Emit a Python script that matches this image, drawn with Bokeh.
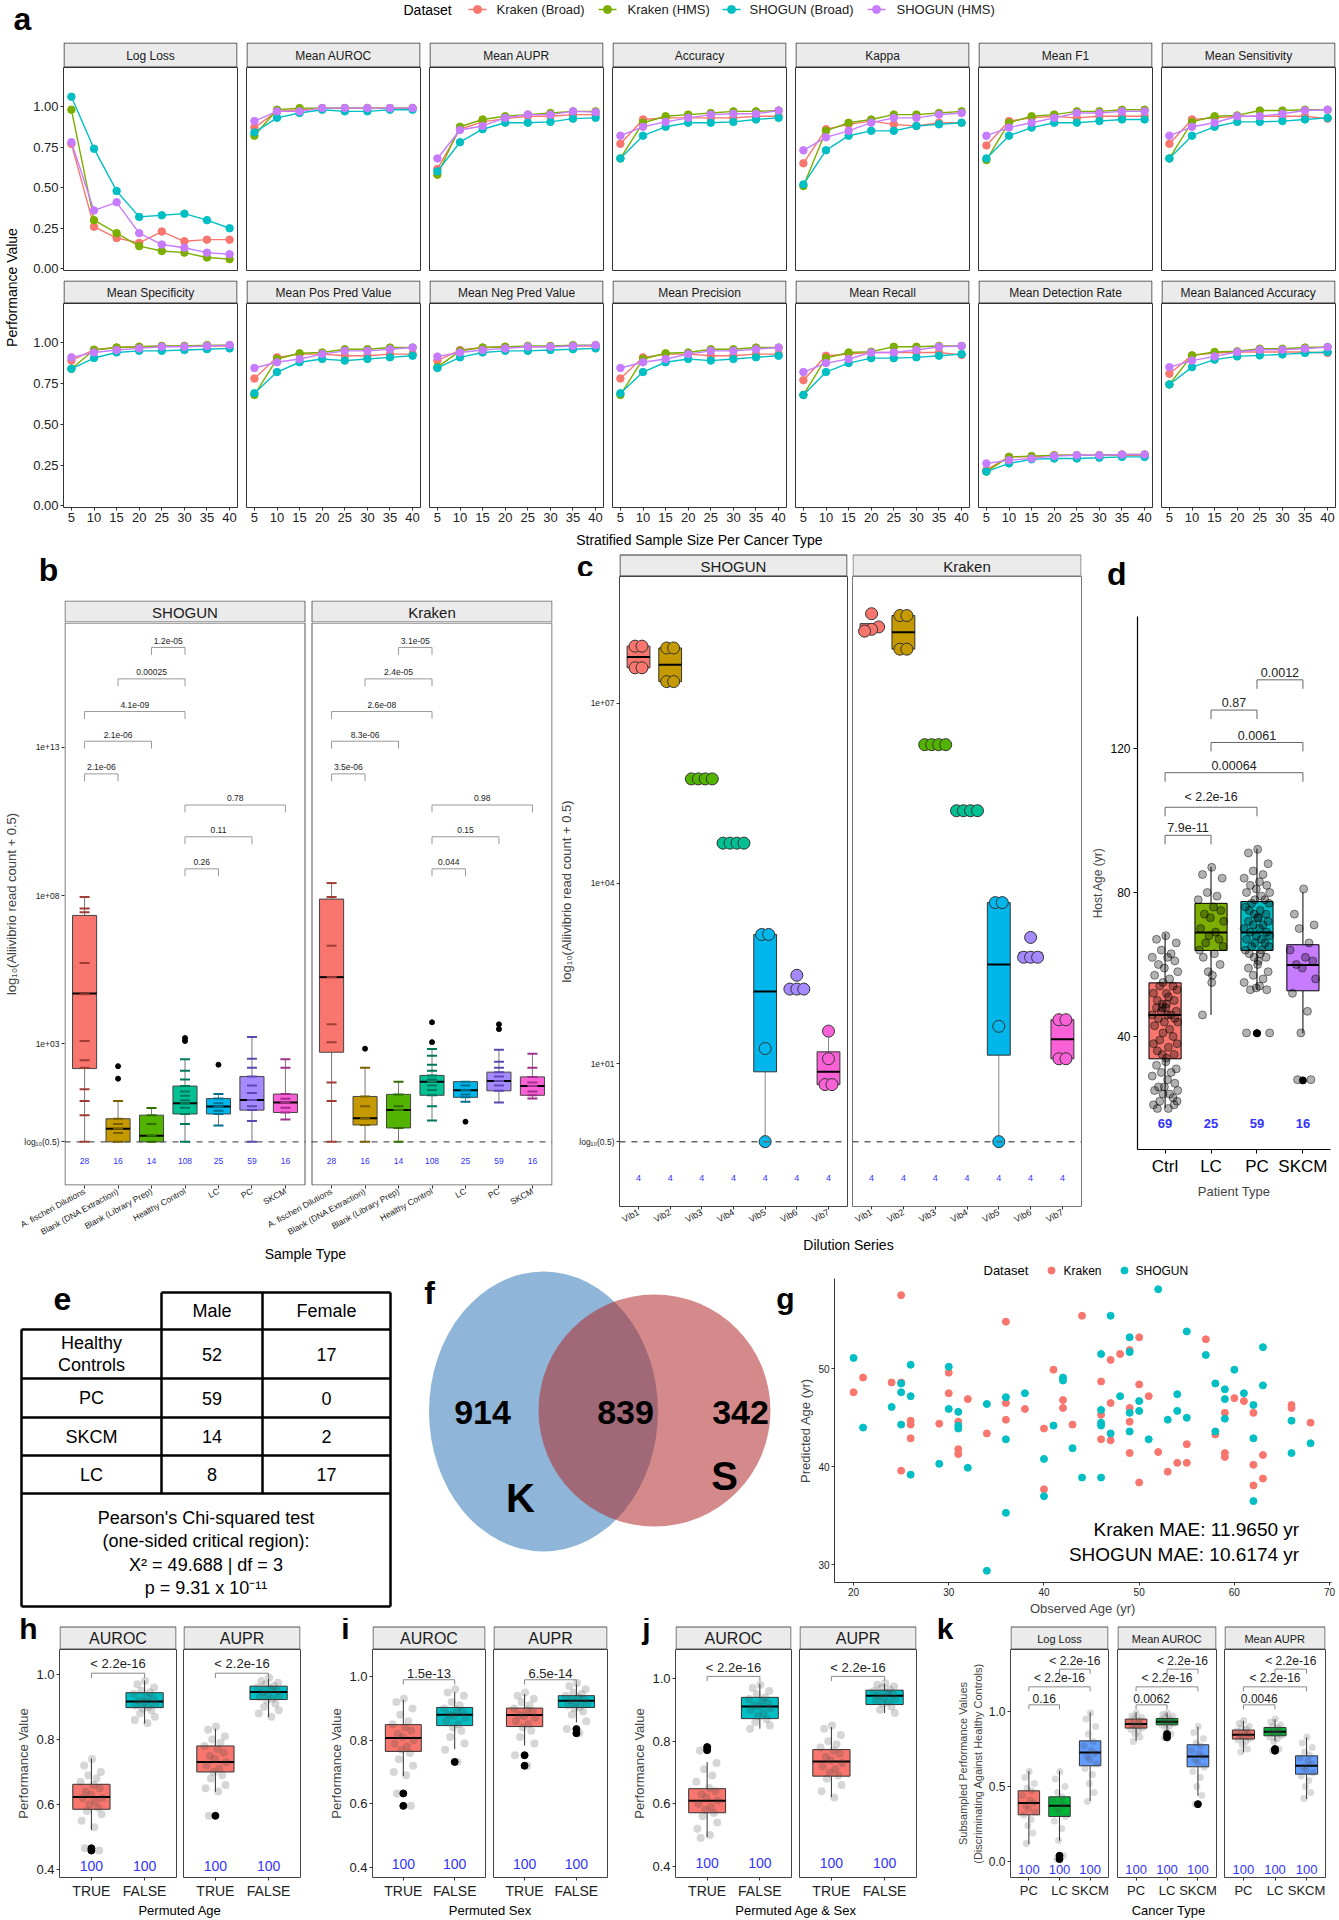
import numpy as np
from bokeh.plotting import figure
from bokeh.layouts import row, column
from bokeh.models import Range1d, FixedTicker, LinearAxis, Span, Spacer, NumeralTickFormatter
from bokeh.core.properties import value
from bokeh.embed import file_html
from bokeh.resources import INLINE

FONT = "Liberation Sans"
LOG_HALF = float(np.log10(0.5))

# ======================= DATA =======================
# ---- panel a
a_x = [5, 10, 15, 20, 25, 30, 35, 40]
a_series = ["Kraken (Broad)", "Kraken (HMS)", "SHOGUN (Broad)", "SHOGUN (HMS)"]
a_metrics = ["Log Loss", "Mean AUROC", "Mean AUPR", "Accuracy", "Kappa", "Mean F1", "Mean Sensitivity",
             "Mean Specificity", "Mean Pos Pred Value", "Mean Neg Pred Value", "Mean Precision",
             "Mean Recall", "Mean Detection Rate", "Mean Balanced Accuracy"]
a_log_loss = [[0.77, 0.26, 0.19, 0.16, 0.23, 0.17, 0.18, 0.18],
              [0.98, 0.30, 0.22, 0.14, 0.11, 0.10, 0.07, 0.06],
              [1.06, 0.74, 0.48, 0.32, 0.33, 0.34, 0.30, 0.25],
              [0.78, 0.36, 0.41, 0.22, 0.15, 0.13, 0.10, 0.09]]
a_auroc = [[0.87, 0.97, 0.98, 0.99, 0.99, 0.99, 0.99, 0.99],
           [0.82, 0.98, 0.99, 0.99, 0.99, 0.99, 0.99, 0.99],
           [0.84, 0.93, 0.96, 0.98, 0.97, 0.97, 0.98, 0.98],
           [0.91, 0.97, 0.97, 0.99, 0.99, 0.99, 0.99, 0.99]]
a_aupr = [[0.615, 0.86, 0.905, 0.925, 0.94, 0.94, 0.95, 0.95],
          [0.58, 0.875, 0.92, 0.94, 0.95, 0.96, 0.97, 0.97],
          [0.60, 0.78, 0.86, 0.90, 0.90, 0.905, 0.925, 0.93],
          [0.68, 0.855, 0.88, 0.93, 0.95, 0.95, 0.97, 0.965]]
a_accuracy = [[0.77, 0.92, 0.93, 0.93, 0.93, 0.93, 0.94, 0.94],
              [0.68, 0.90, 0.94, 0.95, 0.96, 0.97, 0.97, 0.975],
              [0.68, 0.82, 0.875, 0.90, 0.90, 0.905, 0.92, 0.93],
              [0.82, 0.875, 0.905, 0.93, 0.95, 0.955, 0.955, 0.975]]
a_kappa = [[0.65, 0.86, 0.89, 0.91, 0.89, 0.88, 0.90, 0.90],
           [0.51, 0.85, 0.90, 0.92, 0.95, 0.95, 0.96, 0.97],
           [0.52, 0.73, 0.82, 0.85, 0.85, 0.88, 0.89, 0.90],
           [0.73, 0.81, 0.85, 0.90, 0.93, 0.93, 0.95, 0.96]]
a_f1 = [[0.76, 0.91, 0.93, 0.94, 0.93, 0.94, 0.94, 0.94],
        [0.67, 0.90, 0.94, 0.95, 0.97, 0.97, 0.98, 0.98],
        [0.68, 0.82, 0.87, 0.90, 0.90, 0.91, 0.92, 0.92],
        [0.82, 0.87, 0.90, 0.93, 0.96, 0.96, 0.97, 0.97]]
a_sensitivity = [[0.77, 0.92, 0.93, 0.94, 0.94, 0.94, 0.94, 0.925],
                 [0.68, 0.905, 0.94, 0.945, 0.975, 0.975, 0.98, 0.98],
                 [0.68, 0.82, 0.875, 0.905, 0.905, 0.91, 0.92, 0.93],
                 [0.82, 0.875, 0.90, 0.94, 0.94, 0.955, 0.975, 0.98]]
a_specificity = [[0.89, 0.957, 0.97, 0.975, 0.978, 0.978, 0.98, 0.98],
                 [0.84, 0.955, 0.97, 0.975, 0.98, 0.98, 0.985, 0.985],
                 [0.84, 0.906, 0.94, 0.95, 0.95, 0.955, 0.96, 0.965],
                 [0.91, 0.94, 0.955, 0.965, 0.975, 0.975, 0.98, 0.985]]
a_ppv = [[0.78, 0.91, 0.93, 0.93, 0.92, 0.92, 0.93, 0.93],
         [0.68, 0.90, 0.935, 0.94, 0.96, 0.96, 0.97, 0.97],
         [0.69, 0.82, 0.88, 0.90, 0.89, 0.90, 0.91, 0.92],
         [0.845, 0.88, 0.90, 0.93, 0.95, 0.95, 0.96, 0.97]]
a_npv = [[0.89, 0.955, 0.97, 0.975, 0.975, 0.975, 0.98, 0.98],
         [0.85, 0.95, 0.97, 0.975, 0.98, 0.98, 0.985, 0.985],
         [0.845, 0.91, 0.94, 0.95, 0.95, 0.955, 0.96, 0.965],
         [0.915, 0.94, 0.955, 0.965, 0.975, 0.975, 0.98, 0.985]]
a_precision = [[0.78, 0.91, 0.93, 0.93, 0.92, 0.92, 0.93, 0.93],
               [0.68, 0.90, 0.935, 0.94, 0.96, 0.96, 0.97, 0.97],
               [0.69, 0.82, 0.88, 0.90, 0.89, 0.90, 0.91, 0.92],
               [0.845, 0.88, 0.90, 0.93, 0.95, 0.95, 0.96, 0.97]]
a_recall = [[0.77, 0.92, 0.93, 0.94, 0.94, 0.94, 0.94, 0.925],
            [0.68, 0.905, 0.94, 0.945, 0.975, 0.975, 0.98, 0.98],
            [0.68, 0.82, 0.875, 0.905, 0.905, 0.91, 0.92, 0.93],
            [0.82, 0.875, 0.90, 0.94, 0.94, 0.955, 0.975, 0.98]]
a_detection = [[0.22, 0.30, 0.30, 0.31, 0.31, 0.31, 0.31, 0.31],
               [0.21, 0.30, 0.305, 0.31, 0.31, 0.31, 0.315, 0.315],
               [0.21, 0.26, 0.285, 0.29, 0.29, 0.295, 0.30, 0.30],
               [0.26, 0.28, 0.29, 0.305, 0.31, 0.31, 0.315, 0.315]]
a_balanced = [[0.81, 0.922, 0.937, 0.943, 0.943, 0.943, 0.943, 0.937],
              [0.744, 0.922, 0.943, 0.947, 0.963, 0.963, 0.97, 0.973],
              [0.744, 0.85, 0.896, 0.916, 0.922, 0.928, 0.937, 0.943],
              [0.85, 0.89, 0.916, 0.943, 0.957, 0.957, 0.963, 0.973]]
a_values = [a_log_loss, a_auroc, a_aupr, a_accuracy, a_kappa, a_f1, a_sensitivity,
            a_specificity, a_ppv, a_npv, a_precision, a_recall, a_detection, a_balanced]

# ---- panel b
b_facets = ["SHOGUN", "Kraken"]
b_cats = ["A. fischeri Dilutions", "Blank (DNA Extraction)", "Blank (Library Prep)",
          "Healthy Control", "LC", "PC", "SKCM"]
b_n = [28, 16, 14, 108, 25, 59, 16]
b_pairs = [(3, 4), (2, 4), (1, 4), (1, 3), (1, 2), (4, 7), (4, 6), (4, 5)]
b_levels = [16.36, 15.3, 14.2, 13.2, 12.1, 11.05, 9.98, 8.9]
b_sh_p = ["1.2e-05", "0.00025", "4.1e-09", "2.1e-06", "2.1e-06", "0.78", "0.11", "0.26"]
b_kr_p = ["3.1e-05", "2.4e-05", "2.6e-08", "8.3e-06", "3.5e-06", "0.98", "0.15", "0.044"]
b_sh_q1 = [2.17, -0.30, -0.30, 0.64, 0.64, 0.77, 0.69]
b_sh_med = [4.70, 0.14, -0.09, 1.00, 0.89, 1.11, 1.03]
b_sh_q3 = [7.33, 0.48, 0.60, 1.58, 1.16, 1.90, 1.31]
b_sh_lo = [-0.30, -0.30, -0.30, -0.30, 0.25, -0.30, 0.45]
b_sh_hi = [7.95, 1.08, 0.84, 2.48, 1.31, 3.23, 2.48]
b_sh_out_x = [2, 2, 4, 4, 5]
b_sh_out_y = [1.83, 2.25, 3.20, 3.10, 2.30]
b_sh_pts = [[7.95, 7.56, 7.44, 5.73, 4.67, 3.1, 2.45, 2.2, 1.47, 1.08, 0.6, -0.3],
            [1.08, 0.48, 0.3, 0.14, 0.0, -0.3],
            [0.84, 0.6, 0.3, -0.09, -0.3],
            [2.48, 2.1, 1.8, 1.58, 1.4, 1.25, 1.1, 1.0, 0.85, 0.64, 0.3, -0.3],
            [1.31, 1.16, 1.0, 0.89, 0.75, 0.64, 0.25],
            [3.23, 2.5, 2.2, 1.9, 1.6, 1.35, 1.11, 0.9, 0.77, 0.4, -0.3],
            [2.48, 2.2, 1.31, 1.15, 1.03, 0.85, 0.69, 0.45]]
b_kr_q1 = [2.72, 0.27, 0.17, 1.27, 1.20, 1.42, 1.27]
b_kr_med = [5.25, 0.50, 0.77, 1.73, 1.44, 1.75, 1.58]
b_kr_q3 = [7.88, 1.23, 1.30, 1.94, 1.73, 2.05, 1.89]
b_kr_lo = [-0.30, -0.30, -0.30, 0.42, 1.05, 1.03, 1.16]
b_kr_hi = [8.42, 2.20, 1.73, 2.83, 1.73, 2.80, 2.67]
b_kr_out_x = [2, 4, 4, 5, 6, 6]
b_kr_out_y = [2.84, 3.73, 3.06, 0.38, 3.66, 3.50]
b_kr_pts = [[8.42, 7.95, 6.31, 5.25, 3.66, 3.06, 1.7, 1.08, -0.3],
            [2.2, 1.23, 0.9, 0.5, 0.27, -0.3],
            [1.73, 1.3, 0.9, 0.77, 0.17, -0.3],
            [2.83, 2.6, 2.3, 2.1, 1.94, 1.8, 1.73, 1.6, 1.45, 1.27, 0.9, 0.42],
            [1.73, 1.6, 1.44, 1.3, 1.2, 1.05],
            [2.8, 2.4, 2.2, 2.05, 1.9, 1.75, 1.6, 1.42, 1.03],
            [2.67, 2.2, 1.89, 1.7, 1.58, 1.4, 1.27, 1.16]]

# ---- panel c
c_cats = ["Vib1", "Vib2", "Vib3", "Vib4", "Vib5", "Vib6", "Vib7"]
c_n = [4, 4, 4, 4, 4, 4, 4]
c_sh_pts = [[7.95, 7.95, 7.59, 7.59], [7.92, 7.92, 7.36, 7.36], [5.74, 5.74, 5.74, 5.74],
            [4.67, 4.67, 4.67, 4.67], [3.15, 3.15, 1.25, -0.30], [2.47, 2.24, 2.24, 2.24],
            [1.54, 1.08, 0.65, 0.65]]
c_kr_pts = [[8.49, 8.27, 8.23, 8.20], [8.46, 8.46, 7.90, 7.90], [6.31, 6.31, 6.31, 6.31],
            [5.21, 5.21, 5.21, 5.21], [3.68, 3.68, 1.62, -0.30], [3.10, 2.77, 2.77, 2.77],
            [1.73, 1.73, 1.08, 1.08]]

# ---- panel d
d_groups = ["Ctrl", "LC", "PC", "SKCM"]
d_n = [69, 25, 59, 16]
d_q1 = [33.8, 63.9, 63.9, 52.7]
d_med = [46.0, 68.9, 68.9, 59.9]
d_q3 = [54.9, 77.0, 77.5, 65.5]
d_lo = [20.1, 46.0, 53.0, 40.9]
d_hi = [68.6, 87.1, 92.2, 80.1]
d_out = [[], [], [40.9, 40.9], [27.8]]
d_ctrl = [68, 67, 66, 64, 63, 62, 62, 61, 60, 59, 58, 57, 56, 55, 54, 54, 53, 52, 51, 50,
          50, 49, 49, 48, 48, 47, 47, 46, 46, 46, 45, 45, 44, 44, 43, 42, 41, 40, 39, 38,
          38, 37, 36, 35, 35, 34, 33, 32, 31, 30, 30, 29, 28, 27, 26, 26, 25, 25, 24, 24,
          23, 22, 22, 21, 20, 20, 21, 48, 52]
d_lc = [87, 85, 84, 80, 79, 78, 76, 75, 74, 73, 72, 70, 69, 68, 67, 66, 65, 64, 63, 62,
        60, 58, 57, 55, 46]
d_pc = [92, 91, 88, 86, 85, 84, 83, 82, 82, 81, 80, 80, 79, 78, 78, 77, 77, 76, 75, 75,
        74, 74, 73, 73, 72, 72, 71, 71, 70, 70, 69, 69, 68, 68, 67, 67, 66, 66, 65, 65,
        64, 63, 63, 62, 62, 61, 60, 59, 58, 57, 56, 55, 54, 53, 53, 53.5, 41, 41, 64]
d_skcm = [81, 74, 71, 70, 66, 64, 62, 61, 60, 59, 56, 52, 47, 41, 28, 28]
d_pairs = [(1, 2), (1, 3), (1, 4), (2, 4), (2, 3), (3, 4)]
d_levels = [95.9, 103.7, 113.3, 121.7, 130.7, 139.1]
d_p = ["7.9e-11", "< 2.2e-16", "0.00064", "0.0061", "0.87", "0.0012"]

# ---- panel e
e_cols = ["Male", "Female"]
e_rows = ["Healthy Controls", "PC", "SKCM", "LC"]
e_male = [52, 59, 14, 8]
e_female = [17, 0, 2, 17]
e_chisq = 49.688
e_df = 3
e_p = "9.31 x 10\u207b\u00b9\u00b9"

# ---- panel f
f_counts = [914, 839, 342]
f_sets = ["K", "S"]

# ---- panel g
g_kr_obs = [20, 21, 24, 25, 25, 25, 26, 26, 26, 29, 30, 30, 31, 31, 31, 32, 34, 36, 36, 36, 38, 40, 40,
            41, 42, 42, 43, 44, 46, 46, 46, 47, 47, 47, 48, 49, 49, 49, 49, 50, 50, 50, 51, 52, 53, 54,
            55, 55, 57, 58, 59, 59, 59, 60, 61, 62, 62, 62, 63, 63, 66, 66, 68]
g_kr_pred = [47.6, 49.1, 48.6, 48.6, 39.6, 57.5, 44.7, 44.3, 42.9, 44.4, 49.6, 47.5, 44.6, 41.8, 41.3,
             46.9, 43.4, 54.8, 46.5, 44.8, 45.9, 43.9, 37.7, 49.9, 46.8, 46.0, 44.3, 55.4, 48.7, 45.3,
             42.8, 50.9, 46.5, 42.7, 51.5, 51.9, 46.0, 44.6, 41.4, 53.2, 48.4, 38.4, 47.2, 41.5, 39.5,
             40.4, 42.3, 40.4, 53.0, 43.3, 45.5, 41.4, 41.0, 47.0, 46.7, 45.5, 40.2, 38.1, 41.2, 38.8,
             46.3, 46.0, 44.5]
g_sh_obs = [20, 21, 24, 25, 25, 25, 26, 26, 26, 29, 30, 30, 31, 31, 31, 32, 34, 34, 36, 36, 36, 38, 40,
            40, 41, 42, 42, 43, 44, 46, 46, 46, 46, 46, 47, 47, 48, 49, 49, 49, 49, 50, 50, 51, 52, 53,
            54, 54, 55, 55, 57, 58, 58, 59, 59, 59, 60, 61, 62, 62, 62, 63, 63, 66, 66, 68]
g_sh_pred = [51.1, 44.0, 46.1, 48.5, 47.6, 44.3, 50.4, 47.2, 39.2, 40.3, 50.2, 45.9, 45.6, 44.2, 43.9,
             39.9, 46.4, 29.4, 47.1, 42.8, 35.3, 47.5, 40.8, 37.0, 44.2, 49.1, 48.8, 41.9, 38.9, 51.5,
             45.8, 44.5, 44.2, 38.9, 55.4, 43.4, 47.2, 53.2, 51.7, 45.5, 43.6, 46.7, 45.7, 42.8, 58.1,
             44.8, 47.4, 45.7, 53.8, 45.0, 51.4, 48.5, 43.6, 47.9, 46.9, 44.9, 49.9, 47.5, 46.3, 42.9,
             36.5, 52.2, 48.3, 44.7, 41.4, 42.4]
g_mae = [11.9650, 10.6174]

# ---- panels h, i, j   (box: q1, median, q3, lower whisker, upper whisker) for TRUE, FALSE
hij_groups = ["TRUE", "FALSE"]
hij_n = [100, 100]
h_auroc_box = [[0.585, 0.623, 0.662, 0.521, 0.741], [0.898, 0.917, 0.944, 0.849, 0.982]]
h_auroc_out = [[0.465, 0.458], []]
h_auroc_pts = [[0.74, 0.72, 0.70, 0.69, 0.68, 0.67, 0.66, 0.65, 0.64, 0.63, 0.62, 0.62, 0.61, 0.60,
                0.59, 0.58, 0.57, 0.55, 0.53, 0.465, 0.458],
               [0.98, 0.97, 0.96, 0.95, 0.945, 0.94, 0.93, 0.925, 0.92, 0.915, 0.91, 0.905, 0.90,
                0.895, 0.89, 0.88, 0.87, 0.86, 0.85]]
h_aupr_box = [[0.70, 0.731, 0.78, 0.639, 0.833], [0.923, 0.946, 0.964, 0.869, 0.987]]
h_aupr_out = [[0.565], []]
h_aupr_pts = [[0.84, 0.83, 0.81, 0.80, 0.79, 0.78, 0.77, 0.76, 0.75, 0.74, 0.73, 0.72, 0.71, 0.70,
               0.69, 0.68, 0.66, 0.65, 0.64, 0.565],
              [0.99, 0.98, 0.975, 0.97, 0.965, 0.96, 0.955, 0.95, 0.945, 0.94, 0.935, 0.93, 0.925,
               0.92, 0.91, 0.90, 0.89, 0.88, 0.87]]
h_p = ["< 2.2e-16", "< 2.2e-16"]
i_auroc_box = [[0.765, 0.807, 0.849, 0.688, 0.927], [0.846, 0.880, 0.903, 0.772, 0.951]]
i_auroc_out = [[0.633, 0.594], [0.732]]
i_auroc_pts = [[0.93, 0.92, 0.90, 0.88, 0.86, 0.85, 0.84, 0.83, 0.82, 0.81, 0.80, 0.79, 0.78, 0.77,
                0.76, 0.74, 0.72, 0.70, 0.69, 0.633, 0.594],
               [0.96, 0.95, 0.94, 0.92, 0.91, 0.90, 0.895, 0.89, 0.88, 0.875, 0.87, 0.86, 0.85, 0.84,
                0.83, 0.81, 0.79, 0.77, 0.732]]
i_aupr_box = [[0.843, 0.879, 0.901, 0.783, 0.945], [0.903, 0.924, 0.94, 0.856, 0.977]]
i_aupr_out = [[0.753, 0.72], [0.835, 0.822]]
i_aupr_pts = [[0.95, 0.94, 0.93, 0.92, 0.91, 0.90, 0.895, 0.89, 0.88, 0.875, 0.87, 0.86, 0.85, 0.84,
               0.83, 0.81, 0.79, 0.753, 0.72],
              [0.98, 0.97, 0.96, 0.95, 0.945, 0.94, 0.935, 0.93, 0.925, 0.92, 0.915, 0.91, 0.905, 0.90,
               0.89, 0.88, 0.86, 0.835, 0.822]]
i_p = ["1.5e-13", "6.5e-14"]
j_auroc_box = [[0.571, 0.609, 0.648, 0.493, 0.733], [0.872, 0.911, 0.940, 0.84, 0.984]]
j_auroc_out = [[0.781, 0.771], []]
j_auroc_pts = [[0.78, 0.77, 0.73, 0.71, 0.69, 0.67, 0.65, 0.64, 0.63, 0.62, 0.61, 0.60, 0.59, 0.58,
                0.57, 0.56, 0.54, 0.52, 0.50, 0.49],
               [0.98, 0.97, 0.96, 0.95, 0.94, 0.935, 0.93, 0.92, 0.915, 0.91, 0.905, 0.90, 0.89, 0.88,
                0.87, 0.86, 0.85, 0.84]]
j_aupr_box = [[0.688, 0.735, 0.773, 0.621, 0.845], [0.917, 0.945, 0.963, 0.89, 0.984]]
j_aupr_out = [[], []]
j_aupr_pts = [[0.85, 0.84, 0.82, 0.80, 0.79, 0.78, 0.77, 0.76, 0.75, 0.74, 0.73, 0.72, 0.71, 0.70,
               0.69, 0.68, 0.66, 0.64, 0.62],
              [0.985, 0.98, 0.975, 0.97, 0.965, 0.96, 0.955, 0.95, 0.945, 0.94, 0.935, 0.93, 0.925,
               0.92, 0.91, 0.90, 0.89]]
j_p = ["< 2.2e-16", "< 2.2e-16"]

# ---- panel k   (PC, LC, SKCM)
k_groups = ["PC", "LC", "SKCM"]
k_metrics = ["Log Loss", "Mean AUROC", "Mean AUPR"]
k_n = [100, 100, 100]
k_logloss_box = [[0.311, 0.389, 0.471, 0.116, 0.604], [0.30, 0.371, 0.431, 0.138, 0.604],
                 [0.638, 0.727, 0.804, 0.404, 0.993]]
k_logloss_out = [[], [0.038, 0.016], []]
k_logloss_pts = [[0.60, 0.56, 0.52, 0.49, 0.47, 0.44, 0.41, 0.39, 0.37, 0.35, 0.33, 0.31, 0.28, 0.24, 0.19, 0.12],
                 [0.60, 0.55, 0.50, 0.46, 0.43, 0.41, 0.39, 0.37, 0.35, 0.33, 0.30, 0.27, 0.22, 0.14, 0.038, 0.016],
                 [0.99, 0.95, 0.90, 0.85, 0.80, 0.77, 0.74, 0.72, 0.70, 0.68, 0.65, 0.62, 0.58, 0.52, 0.46, 0.40]]
k_auroc_box = [[0.889, 0.916, 0.949, 0.804, 0.995], [0.911, 0.931, 0.953, 0.878, 0.993],
               [0.631, 0.70, 0.778, 0.438, 0.898]]
k_auroc_out = [[], [0.849, 0.827], [0.382]]
k_auroc_pts = [[0.99, 0.97, 0.96, 0.95, 0.94, 0.93, 0.92, 0.915, 0.91, 0.90, 0.89, 0.88, 0.87, 0.85, 0.83, 0.80],
               [0.99, 0.98, 0.97, 0.96, 0.95, 0.945, 0.94, 0.935, 0.93, 0.925, 0.92, 0.91, 0.90, 0.88, 0.849, 0.827],
               [0.90, 0.86, 0.82, 0.79, 0.77, 0.74, 0.72, 0.70, 0.68, 0.66, 0.63, 0.60, 0.56, 0.50, 0.44, 0.382]]
k_aupr_box = [[0.816, 0.844, 0.876, 0.727, 0.938], [0.838, 0.864, 0.893, 0.804, 0.949],
              [0.582, 0.638, 0.704, 0.416, 0.827]]
k_aupr_out = [[], [0.749, 0.738], []]
k_aupr_pts = [[0.94, 0.92, 0.90, 0.89, 0.88, 0.87, 0.86, 0.85, 0.84, 0.83, 0.82, 0.81, 0.80, 0.78, 0.75, 0.73],
              [0.95, 0.93, 0.91, 0.90, 0.89, 0.88, 0.87, 0.865, 0.86, 0.85, 0.84, 0.83, 0.82, 0.80, 0.749, 0.738],
              [0.83, 0.79, 0.76, 0.73, 0.71, 0.69, 0.67, 0.65, 0.63, 0.61, 0.59, 0.57, 0.54, 0.50, 0.46, 0.42]]
k_pc_lc_p = ["0.16", "0.0062", "0.0046"]
k_other_p = "< 2.2e-16"

# ======================= STYLE =======================
a_colors = ["#F8766D", "#7CAE00", "#00BFC4", "#C77CFF"]
b_colors = ["#F8766D", "#C49A00", "#53B400", "#00C094", "#00B6EB", "#A58AFF", "#FB61D7"]
b_dark = ["#A03C35", "#7A6000", "#2F6E00", "#00785C", "#00708F", "#5D47B0", "#A0308A"]
d_colors = ["#F8766D", "#7CAE00", "#00BFC4", "#C77CFF"]
k_colors = ["#F8766D", "#00BA38", "#619CFF"]
tf_colors = ["#F8766D", "#00BFC4"]
NBLUE = "#3333FF"
JIT = [0.05, -0.62, 0.81, -0.27, 0.44, -0.93, 0.18, 0.71, -0.48, -0.05, 0.92, -0.76, 0.33,
       -0.15, 0.58, -0.39, 0.87, -0.84, 0.24, -0.56, 0.66, -0.2, 0.1]


def jit(n, s):
    return [JIT[i % len(JIT)] * s for i in range(n)]


def blank(w, h, L=0, R=0):
    """Figure whose frame spans w-L-R; data x = canvas x - L, data y = canvas y (downwards)."""
    p = figure(width=w, height=h, x_range=Range1d(0, w - L - R), y_range=Range1d(h, 0),
               min_border_left=L, min_border_right=R, min_border_top=0, min_border_bottom=0,
               x_axis_location=None, y_axis_location=None,
               toolbar_location=None, output_backend="svg", title=None)
    p.outline_line_color = None
    p.grid.visible = False
    return p


def txt(p, x, y, s, size, align="center", baseline="middle", bold=False, color="black",
        angle=0.0, font=FONT):
    p.text(x=[x], y=[y], text=[s], text_font=value(font), text_font_size=size,
           text_align=align, text_baseline=baseline, text_color=color, angle=angle,
           text_font_style="bold" if bold else "normal")


def tag_axis(p, y, s, standoff, size="30px"):
    """Panel letter drawn as the single tick label of a bare left axis (sits in the left border)."""
    ax = LinearAxis(ticker=FixedTicker(ticks=[y]), major_label_overrides={y: s},
                    axis_line_color=None, major_tick_line_color=None, minor_tick_line_color=None,
                    major_tick_out=0, major_tick_in=0,
                    major_label_text_font=FONT, major_label_text_font_size=size,
                    major_label_text_font_style="bold", major_label_text_color="black",
                    major_label_standoff=standoff)
    p.add_layout(ax, "left")


def mk(L, F, R, T, H, B, xr, yr, xaxis=True, yaxis=True):
    p = figure(width=L + F + R, height=T + H + B, x_range=xr, y_range=yr,
               min_border_left=L, min_border_right=R, min_border_top=T, min_border_bottom=B,
               x_axis_location="below" if xaxis else None,
               y_axis_location="left" if yaxis else None,
               toolbar_location=None, output_backend="svg", title=None)
    p.grid.visible = False
    p.outline_line_color = "#333333"
    p.outline_line_width = 1
    for ax in p.axis:
        ax.major_label_text_font = FONT
        ax.axis_label_text_font = FONT
        ax.axis_label_text_font_style = "normal"
        ax.minor_tick_line_color = None
        ax.major_tick_out = 3
        ax.major_tick_in = 0
        ax.axis_line_color = None
        ax.major_tick_line_color = "#333333"
        ax.major_label_text_color = "#222222"
        ax.major_label_standoff = 2
        ax.axis_label_standoff = 2
    return p


def strip_fig(L, F, R, h, label, fs, tg=None, tag_y=0, tag_standoff=0, top=0, tag_fs="30px",
              fill="#EBEBEB", line="#333333"):
    s = blank(L + F + R, h, L, R)
    s.quad(left=[0.5], right=[F - 0.5], top=[top + 0.5], bottom=[h - 0.5],
           fill_color=fill, line_color=line, line_width=1)
    txt(s, F / 2, (top + h) / 2 + 0.5, label, fs, color="#1a1a1a")
    if tg:
        tag_axis(s, tag_y, tg, tag_standoff, tag_fs)
    return s


def boxes(p, xs, q1, med, q3, lo, hi, width, colors, line="#333333", wline="#333333",
          mw=2.0, alpha=1.0):
    p.segment(x0=xs, y0=q3, x1=xs, y1=hi, line_color=wline, line_width=1)
    p.segment(x0=xs, y0=lo, x1=xs, y1=q1, line_color=wline, line_width=1)
    p.vbar(x=xs, width=width, bottom=q1, top=q3, fill_color=colors, fill_alpha=alpha,
           line_color=line, line_width=1)
    p.segment(x0=[x - width / 2 for x in xs], y0=med, x1=[x + width / 2 for x in xs], y1=med,
              line_color="black", line_width=mw)


def brackets(p, pairs, levels, labels, drop, off, fs, color="#888888"):
    x0, y0, x1, y1 = [], [], [], []
    for (a, b), lv in zip(pairs, levels):
        x0 += [a, a, b]
        y0 += [lv - drop, lv, lv]
        x1 += [a, b, b]
        y1 += [lv, lv, lv - drop]
    p.segment(x0=x0, y0=y0, x1=x1, y1=y1, line_color=color, line_width=1)
    p.text(x=[(a + b) / 2 for a, b in pairs], y=[lv + off for lv in levels], text=labels,
           text_font=value(FONT), text_font_size=fs, text_align="center",
           text_baseline="bottom", text_color="#222222")


def stack_offsets(vals, step):
    order = sorted(range(len(vals)), key=lambda i: vals[i])
    offs = [0.0] * len(vals)
    clusters = []
    for i in order:
        if clusters and vals[i] - vals[clusters[-1][0]] <= 0.12:
            clusters[-1].append(i)
        else:
            clusters.append([i])
    for cl in clusters:
        n = len(cl)
        for j, i in enumerate(cl):
            offs[i] = (j - (n - 1) / 2) * step
    return offs


# ======================= SECTION 1 : panel a (y 0-548) =======================
hdr = blank(1339, 42)
txt(hdr, 22, 18, "a", "32px", bold=True)
txt(hdr, 403, 9, "Dataset", "14px", align="left")
leg_sym = [477, 607, 731, 876]
leg_lab = [496, 627, 749, 896]
hdr.segment(x0=[s - 9 for s in leg_sym], y0=[9] * 4, x1=[s + 9 for s in leg_sym], y1=[9] * 4,
            line_color=a_colors, line_width=1.5)
hdr.scatter(x=leg_sym, y=[9] * 4, size=8, color=a_colors)
hdr.text(x=leg_lab, y=[9] * 4, text=a_series, text_font=value(FONT), text_font_size="13px",
         text_align="left", text_baseline="middle", text_color="#222222")

XA = Range1d(3.25, 41.75)
YA = Range1d(-0.01, 1.24)


def a_plot(vals, first, bottom):
    L = 38 if first else 5
    H = 204 if bottom else 203
    B = 24 if bottom else 10
    p = mk(L, 174, 4, 0, H, B, XA, YA, xaxis=bottom, yaxis=first)
    if first:
        p.yaxis.ticker = FixedTicker(ticks=[0, 0.25, 0.5, 0.75, 1.0])
        p.yaxis.formatter = NumeralTickFormatter(format="0.00")
        p.yaxis.major_label_text_font_size = "13px"
    if bottom:
        p.xaxis.ticker = FixedTicker(ticks=a_x)
        p.xaxis.major_label_text_font_size = "13px"
    for s in range(4):
        p.line(a_x, vals[s], color=a_colors[s], line_width=1.4)
        p.scatter(a_x, vals[s], size=7.5, color=a_colors[s])
    return p


r1, r2 = [], []
for k in range(7):
    L = 38 if k == 0 else 5
    r1.append(column(strip_fig(L, 174, 4, 25, a_metrics[k], "12px"), a_plot(a_values[k], k == 0, False)))
    r2.append(column(strip_fig(L, 174, 4, 23, a_metrics[k + 7], "12px"),
                     a_plot(a_values[k + 7], k == 0, True)))
yt_a = blank(25, 489)
txt(yt_a, 11, 245, "Performance Value", "14px", angle=np.pi / 2)
xt_a = blank(1339, 17)
txt(xt_a, 699, 8, "Stratified Sample Size Per Cancer Type", "14px")
sec1 = column(hdr, row(yt_a, column(row(*r1), row(*r2))), xt_a)

# ======================= SECTION 2 : panels b, c, d (y 548-1262) =======================
# panel b: both facets share one figure (so the angled labels may overhang into the left facet);
# the second facet is offset by one facet width plus a 6 px gap.
B_L, B_F, B_R = 64, 488, 4
B_GAP_PX = 6
B_PPU = (B_F - B_GAP_PX) / 14.4
B_OFF = 7.2 + B_GAP_PX / B_PPU
B_YR = (-1.77, 17.2)


def b_panel():
    p = mk(B_L, B_F, B_R, 0, 563, 60, Range1d(0.4, 7.6 + B_OFF), Range1d(*B_YR), True, True)
    p.outline_line_color = None
    xs1 = list(range(1, 8))
    xs2 = [x + B_OFF for x in xs1]
    p.xaxis.ticker = FixedTicker(ticks=xs1 + xs2)
    p.xaxis.major_label_overrides = {x: c for x, c in zip(xs1 + xs2, b_cats + b_cats)}
    p.xaxis.major_label_orientation = 0.5
    p.xaxis.major_label_text_font_size = "8.5px"
    p.yaxis.ticker = FixedTicker(ticks=[LOG_HALF, 3, 8, 13])
    p.yaxis.major_label_overrides = {LOG_HALF: "log\u2081\u2080(0.5)", 3: "1e+03", 8: "1e+08",
                                     13: "1e+13"}
    p.yaxis.major_label_text_font_size = "8.5px"
    p.yaxis.axis_label = "log\u2081\u2080(Aliivibrio read count + 0.5)"
    p.yaxis.axis_label_text_font_size = "13px"
    ex = 0.5 / B_PPU
    ey = 0.5 * (B_YR[1] - B_YR[0]) / 563
    p.quad(left=[0.4 + ex, 0.4 + B_OFF + ex], right=[7.6 - ex, 7.6 + B_OFF - ex],
           bottom=[B_YR[0] + ey] * 2, top=[B_YR[1] - ey] * 2, fill_color=None,
           line_color="#555555", line_width=1)
    p.segment(x0=[0.4, 0.4 + B_OFF], y0=[LOG_HALF] * 2, x1=[7.6, 7.6 + B_OFF], y1=[LOG_HALF] * 2,
              line_color="#333333", line_dash="dashed", line_width=1)
    facets = [(xs1, 0.0, b_sh_q1, b_sh_med, b_sh_q3, b_sh_lo, b_sh_hi, b_sh_pts, b_sh_out_x, b_sh_out_y, b_sh_p),
              (xs2, B_OFF, b_kr_q1, b_kr_med, b_kr_q3, b_kr_lo, b_kr_hi, b_kr_pts, b_kr_out_x, b_kr_out_y, b_kr_p)]
    for xs, off, q1, med, q3, lo, hi, pts, ox, oy, plabels in facets:
        boxes(p, xs, q1, med, q3, lo, hi, 0.72, b_colors, line="#444444", wline="#777777")
        for k, vals in enumerate(pts):
            p.scatter(x=[xs[k]] * len(vals), y=vals, marker="dash", size=10,
                      line_color=b_dark[k], line_width=2)
        p.scatter(x=[x + off for x in ox], y=oy, size=5, color="black")
        brackets(p, [(a + off, b + off) for a, b in b_pairs], b_levels, plabels, 0.25, 0.12,
                 "8.5px", color="#999999")
        p.text(x=xs, y=[-0.95] * 7, text=[str(n) for n in b_n], text_font=value(FONT),
               text_font_size="8.5px", text_align="center", text_baseline="middle", text_color=NBLUE)
    return p


b_lab = blank(556, 52)
txt(b_lab, 48, 21, "b", "32px", bold=True)
b_fw = 7.2 * B_PPU
bs = blank(556, 22, B_L, B_R)
bs.quad(left=[0.5, b_fw + B_GAP_PX + 0.5], right=[b_fw - 0.5, B_F - 0.5], top=[0.5, 0.5],
        bottom=[21.5, 21.5], fill_color="#EBEBEB", line_color="#666666", line_width=1)
bs.text(x=[b_fw / 2, b_fw + B_GAP_PX + b_fw / 2], y=[11.5, 11.5], text=b_facets,
        text_font=value(FONT), text_font_size="15px", text_align="center", text_baseline="middle",
        text_color="#1a1a1a")
b_xt = blank(556, 17)
txt(b_xt, 305, 8, "Sample Type", "14px")
bcol = column(b_lab, row(column(bs, b_panel())), b_xt)


def c_facet(first, groups):
    L, F, R = (62, 229, 2) if first else (3, 229, 7)
    p = mk(L, F, R, 0, 630, 26, Range1d(0.4, 7.6), Range1d(-1.38, 9.11), True, first)
    p.outline_line_color = "#444444" if first else "#777777"
    xs = list(range(1, 8))
    p.xaxis.ticker = FixedTicker(ticks=xs)
    p.xaxis.major_label_overrides = {i + 1: c for i, c in enumerate(c_cats)}
    p.xaxis.major_label_orientation = 0.5
    p.xaxis.major_label_text_font_size = "9px"
    if first:
        p.yaxis.ticker = FixedTicker(ticks=[LOG_HALF, 1, 4, 7])
        p.yaxis.major_label_overrides = {LOG_HALF: "log\u2081\u2080(0.5)", 1: "1e+01", 4: "1e+04",
                                         7: "1e+07"}
        p.yaxis.major_label_text_font_size = "8.5px"
        p.yaxis.axis_label = "log\u2081\u2080(Aliivibrio read count + 0.5)"
        p.yaxis.axis_label_text_font_size = "13px"
    p.add_layout(Span(location=LOG_HALF, dimension="width", line_color="#666666",
                      line_dash="dashed", line_width=1.5))
    q1s, meds, q3s, los, his = [], [], [], [], []
    for vals in groups:
        arr = np.array(vals, dtype=float)
        q1, med, q3 = np.percentile(arr, [25, 50, 75])
        iqr = q3 - q1
        q1s.append(q1); meds.append(med); q3s.append(q3)
        los.append(arr[arr >= q1 - 1.5 * iqr].min())
        his.append(arr[arr <= q3 + 1.5 * iqr].max())
    boxes(p, xs, q1s, meds, q3s, los, his, 0.72, b_colors, line="#333333", wline="#888888")
    for k, vals in enumerate(groups):
        offs = stack_offsets(vals, 0.22)
        p.scatter(x=[k + 1 + o for o in offs], y=vals, size=12, fill_color=b_colors[k],
                  line_color="#333333", line_width=1)
    p.text(x=xs, y=[-0.91] * 7, text=[str(n) for n in c_n], text_font=value(FONT),
           text_font_size="9px", text_align="center", text_baseline="middle", text_color=NBLUE)
    return p


cs1 = strip_fig(62, 229, 2, 28, "SHOGUN", "15px", tg="c", tag_y=15, tag_standoff=26, top=6)
cs2 = strip_fig(3, 229, 7, 28, "Kraken", "15px", top=6, line="#777777")
cf1 = c_facet(True, c_sh_pts)
cf2 = c_facet(False, c_kr_pts)
c_xt = blank(532, 30)
txt(c_xt, 292, 12, "Dilution Series", "14px")
ccol = column(row(column(cs1, cf1), column(cs2, cf2)), c_xt)


def d_plot():
    p = mk(46, 196, 9, 10, 533, 56, Range1d(0.4, 4.6), Range1d(8.6, 156.7), True, True)
    p.outline_line_color = None
    for ax in p.axis:
        ax.axis_line_color = "black"
        ax.axis_line_width = 1.2
        ax.major_tick_line_color = "black"
        ax.major_tick_out = 4
        ax.major_label_text_color = "black"
        ax.major_label_standoff = 3
    p.xaxis.ticker = FixedTicker(ticks=[1, 2, 3, 4])
    p.xaxis.major_label_overrides = {i + 1: g for i, g in enumerate(d_groups)}
    p.xaxis.major_label_text_font_size = "17px"
    p.xaxis.axis_label = "Patient Type"
    p.xaxis.axis_label_text_font_size = "13px"
    p.xaxis.axis_label_standoff = 5
    p.yaxis.ticker = FixedTicker(ticks=[40, 80, 120])
    p.yaxis.major_label_text_font_size = "12px"
    p.yaxis.axis_label = "Host Age (yr)"
    p.yaxis.axis_label_text_font_size = "12px"
    xs = [1, 2, 3, 4]
    boxes(p, xs, d_q1, d_med, d_q3, d_lo, d_hi, 0.7, d_colors, line="black", wline="black")
    for k, ages in enumerate([d_ctrl, d_lc, d_pc, d_skcm]):
        p.scatter(x=[k + 1 + j for j in jit(len(ages), 0.3)], y=ages, size=8, fill_color="black",
                  fill_alpha=0.3, line_color="black", line_alpha=0.45)
    for k, outs in enumerate(d_out):
        if outs:
            p.scatter(x=[k + 1] * len(outs), y=outs, size=7, color="black")
    brackets(p, d_pairs, d_levels, d_p, 2.5, 0.8, "12.5px", color="#666666")
    p.text(x=xs, y=[15.8] * 4, text=[str(n) for n in d_n], text_font=value(FONT),
           text_font_size="13px", text_align="center", text_baseline="middle", text_color=NBLUE,
           text_font_style="bold")
    return p


d_lab = blank(251, 58, 46, 9)
tag_axis(d_lab, 25, "d", 11, "32px")
dcol = column(d_lab, d_plot(), Spacer(width=251, height=57))
sec2 = row(bcol, ccol, dcol)

# ======================= SECTION 3 : panels e, f, g (y 1262-1618) =======================
ef = blank(420, 356)
X0, X1, X2, X3 = 21, 161, 262, 390
YL = [30, 67, 116, 155, 193, 231, 344]
hx0 = [X1] + [X0] * 6
hy = [YL[0]] + YL[1:]
ef.segment(x0=hx0, y0=hy, x1=[X3] * 7, y1=hy, line_color="black", line_width=2.5)
ef.segment(x0=[X0, X1, X2, X3], y0=[YL[1], YL[0], YL[0], YL[0]], x1=[X0, X1, X2, X3],
           y1=[YL[6], YL[5], YL[5], YL[6]], line_color="black", line_width=2.5)
txt(ef, 62, 36, "e", "32px", bold=True)
TFS = "18px"
txt(ef, (X1 + X2) / 2, (YL[0] + YL[1]) / 2, e_cols[0], TFS)
txt(ef, (X2 + X3) / 2, (YL[0] + YL[1]) / 2, e_cols[1], TFS)
for r in range(4):
    yc = (YL[r + 1] + YL[r + 2]) / 2
    words = e_rows[r].split(" ")
    if len(words) == 2:
        txt(ef, (X0 + X1) / 2, yc - 11, words[0], TFS)
        txt(ef, (X0 + X1) / 2, yc + 11, words[1], TFS)
    else:
        txt(ef, (X0 + X1) / 2, yc, e_rows[r], TFS)
    txt(ef, (X1 + X2) / 2, yc, str(e_male[r]), TFS)
    txt(ef, (X2 + X3) / 2, yc, str(e_female[r]), TFS)
e_lines = ["Pearson's Chi-squared test", "(one-sided critical region):",
           "X\u00b2 = %.3f | df = %d" % (e_chisq, e_df), "p = " + e_p]
for i, s in enumerate(e_lines):
    txt(ef, (X0 + X3) / 2, 255 + 23.5 * i, s, TFS)

ff = blank(355, 356)
ff.ellipse(x=[123], y=[149], width=[229], height=[280], fill_color="#337AB8", fill_alpha=0.55,
           line_color=None)
ff.ellipse(x=[234], y=[148], width=[232], height=[232], fill_color="#B12A2A", fill_alpha=0.55,
           line_color=None)
txt(ff, 9, 30, "f", "32px", bold=True)
for xc, cnt in zip([62, 205, 320], f_counts):
    txt(ff, xc, 150, str(cnt), "34px", bold=True)
txt(ff, 100, 235, f_sets[0], "40px", bold=True)
txt(ff, 304, 213, f_sets[1], "40px", bold=True)

g_leg = blank(564, 16)
txt(g_leg, 208, 8, "Dataset", "13px", align="left")
g_leg.scatter(x=[276, 349], y=[8, 8], size=7, color=["#F8766D", "#00BFC4"])
g_leg.text(x=[288, 360], y=[8, 8], text=["Kraken", "SHOGUN"], text_font=value(FONT),
           text_font_size="12px", text_align="left", text_baseline="middle")
g_lab = blank(20, 340)
txt(g_lab, 10, 22, "g", "30px", bold=True)


def g_plot():
    p = mk(33, 503, 8, 0, 305, 35, Range1d(18.0, 70.2), Range1d(28.2, 59.2), True, True)
    p.outline_line_color = None
    for ax in p.axis:
        ax.axis_line_color = "#333333"
        ax.axis_line_width = 1
        ax.major_label_text_font_size = "10px"
        ax.axis_label_text_font_size = "13px"
    p.xaxis.ticker = FixedTicker(ticks=[20, 30, 40, 50, 60, 70])
    p.yaxis.ticker = FixedTicker(ticks=[30, 40, 50])
    p.xaxis.axis_label = "Observed Age (yr)"
    p.yaxis.axis_label = "Predicted Age (yr)"
    p.scatter(g_kr_obs, g_kr_pred, size=7, color="#F8766D")
    p.scatter(g_sh_obs, g_sh_pred, size=7, color="#00BFC4")
    p.text(x=[66.8, 66.8], y=[33.6, 31.05],
           text=["Kraken MAE: %.4f yr" % g_mae[0], "SHOGUN MAE: %.4f yr" % g_mae[1]],
           text_font=value(FONT), text_font_size="19px", text_align="right",
           text_baseline="middle", text_color="black")
    return p


gcol = column(g_leg, row(g_lab, g_plot()))
sec3 = row(ef, ff, gcol)


# ======================= SECTION 4 : panels h, i, j, k (y 1618-1920) =======================
def hij_facet(L, F, R, yr, box, pts, outs, plab, lvl, first):
    p = mk(L, F, R, 0, 228, 26, Range1d(0.4, 2.6), Range1d(*yr), True, first)
    p.outline_line_color = "#444444"
    p.xaxis.ticker = FixedTicker(ticks=[1, 2])
    p.xaxis.major_label_overrides = {i + 1: g for i, g in enumerate(hij_groups)}
    p.xaxis.major_label_text_font_size = "14px"
    if first:
        p.yaxis.ticker = FixedTicker(ticks=[0.4, 0.6, 0.8, 1.0])
        p.yaxis.formatter = NumeralTickFormatter(format="0.0")
        p.yaxis.major_label_text_font_size = "13px"
        p.yaxis.axis_label = "Performance Value"
        p.yaxis.axis_label_text_font_size = "13px"
    xs = [1, 2]
    boxes(p, xs, [b[0] for b in box], [b[1] for b in box], [b[2] for b in box],
          [b[3] for b in box], [b[4] for b in box], 0.7, tf_colors)
    for k in range(2):
        p.scatter(x=[k + 1 + j for j in jit(len(pts[k]), 0.22)], y=pts[k], size=8,
                  fill_color="#444444", fill_alpha=0.22, line_color=None)
        if outs[k]:
            p.scatter(x=[k + 1] * len(outs[k]), y=outs[k], size=7, color="black")
    brackets(p, [(1, 2)], [lvl], [plab], 0.015, 0.006, "13px")
    p.text(x=xs, y=[0.41] * 2, text=[str(n) for n in hij_n], text_font=value(FONT),
           text_font_size="14px", text_align="center", text_baseline="middle", text_color=NBLUE)
    return p


def hij_col(tg, standoff, dims, yr, data, lvl, xtitle, width):
    (L1, F1, R1), (L2, F2, R2) = dims
    s1 = strip_fig(L1, F1, R1, 31, "AUROC", "16px", tg=tg, tag_y=19, tag_standoff=standoff,
                   top=8, line="#555555")
    s2 = strip_fig(L2, F2, R2, 31, "AUPR", "16px", top=8, line="#555555")
    p1 = hij_facet(L1, F1, R1, yr, data[0][0], data[0][1], data[0][2], data[0][3], lvl, True)
    p2 = hij_facet(L2, F2, R2, yr, data[1][0], data[1][1], data[1][2], data[1][3], lvl, False)
    xt = blank(width, 17)
    txt(xt, (L1 + (L1 + F1 + R1 + L2 + F2)) / 2, 7, xtitle, "13px")
    return column(row(column(s1, p1), column(s2, p2)), xt)


hcol = hij_col("h", 22, [(59, 117, 3), (4, 117, 10)], (0.375, 1.077),
               [(h_auroc_box, h_auroc_pts, h_auroc_out, h_p[0]), (h_aupr_box, h_aupr_pts, h_aupr_out, h_p[1])],
               1.004, "Permuted Age", 310)
icol = hij_col("i", 23, [(62, 113, 4), (4, 114, 10)], (0.369, 1.085),
               [(i_auroc_box, i_auroc_pts, i_auroc_out, i_p[0]), (i_aupr_box, i_aupr_pts, i_aupr_out, i_p[1])],
               0.99, "Permuted Sex", 307)
jcol = hij_col("j", 25, [(58, 116, 4), (4, 117, 4)], (0.364, 1.093),
               [(j_auroc_box, j_auroc_pts, j_auroc_out, j_p[0]), (j_aupr_box, j_aupr_pts, j_aupr_out, j_p[1])],
               1.007, "Permuted Age & Sex", 303)


def k_facet(L, F, R, box, pts, outs, plab, first):
    yr = (-0.107, 1.413)
    p = mk(L, F, R, 0, 228, 26, Range1d(0.4, 3.6), Range1d(*yr), True, first)
    p.outline_line_color = "#444444"
    p.xaxis.ticker = FixedTicker(ticks=[1, 2, 3])
    p.xaxis.major_label_overrides = {i + 1: g for i, g in enumerate(k_groups)}
    p.xaxis.major_label_text_font_size = "13px"
    if first:
        p.yaxis.ticker = FixedTicker(ticks=[0, 0.5, 1.0])
        p.yaxis.formatter = NumeralTickFormatter(format="0.0")
        p.yaxis.major_label_text_font_size = "12px"
        p.yaxis.axis_label = "(Discriminating Against Healthy Controls)"
        p.yaxis.axis_label_text_font_size = "11px"
        ax2 = LinearAxis(ticker=FixedTicker(ticks=[]), axis_label="Subsampled Performance Values",
                         axis_line_color=None, major_tick_line_color=None, minor_tick_line_color=None,
                         major_label_text_font_size="0px", axis_label_text_font_size="11px",
                         axis_label_text_font=FONT, axis_label_text_font_style="normal",
                         axis_label_standoff=0)
        p.add_layout(ax2, "left")
    xs = [1, 2, 3]
    boxes(p, xs, [b[0] for b in box], [b[1] for b in box], [b[2] for b in box],
          [b[3] for b in box], [b[4] for b in box], 0.7, k_colors)
    for k in range(3):
        p.scatter(x=[k + 1 + j for j in jit(len(pts[k]), 0.22)], y=pts[k], size=7,
                  fill_color="#444444", fill_alpha=0.2, line_color=None)
        if outs[k]:
            p.scatter(x=[k + 1] * len(outs[k]), y=outs[k], size=7, color="black")
    brackets(p, [(1, 2), (1, 3), (2, 3)], [1.044, 1.164, 1.282], [plab, k_other_p, k_other_p],
             0.03, 0.01, "12px")
    p.text(x=xs, y=[-0.051] * 3, text=[str(n) for n in k_n], text_font=value(FONT),
           text_font_size="13px", text_align="center", text_baseline="middle", text_color=NBLUE)
    return p


k_dims = [(90, 98, 4), (5, 99, 4), (4, 101, 14)]
k_data = [(k_logloss_box, k_logloss_pts, k_logloss_out), (k_auroc_box, k_auroc_pts, k_auroc_out),
          (k_aupr_box, k_aupr_pts, k_aupr_out)]
k_facets = []
for m in range(3):
    L, F, R = k_dims[m]
    st = strip_fig(L, F, R, 31, k_metrics[m], "11px", tg="k" if m == 0 else None, tag_y=19,
                   tag_standoff=57, top=8, line="#555555")
    pk = k_facet(L, F, R, k_data[m][0], k_data[m][1], k_data[m][2], k_pc_lc_p[m], m == 0)
    k_facets.append(column(st, pk))
k_xt = blank(419, 17)
txt(k_xt, 248, 7, "Cancer Type", "13px")
kcol = column(row(*k_facets), k_xt)

sec4 = row(hcol, icol, jcol, kcol)

root = column(sec1, sec2, sec3, sec4)
open("out.html", "w").write(file_html(root, INLINE))
